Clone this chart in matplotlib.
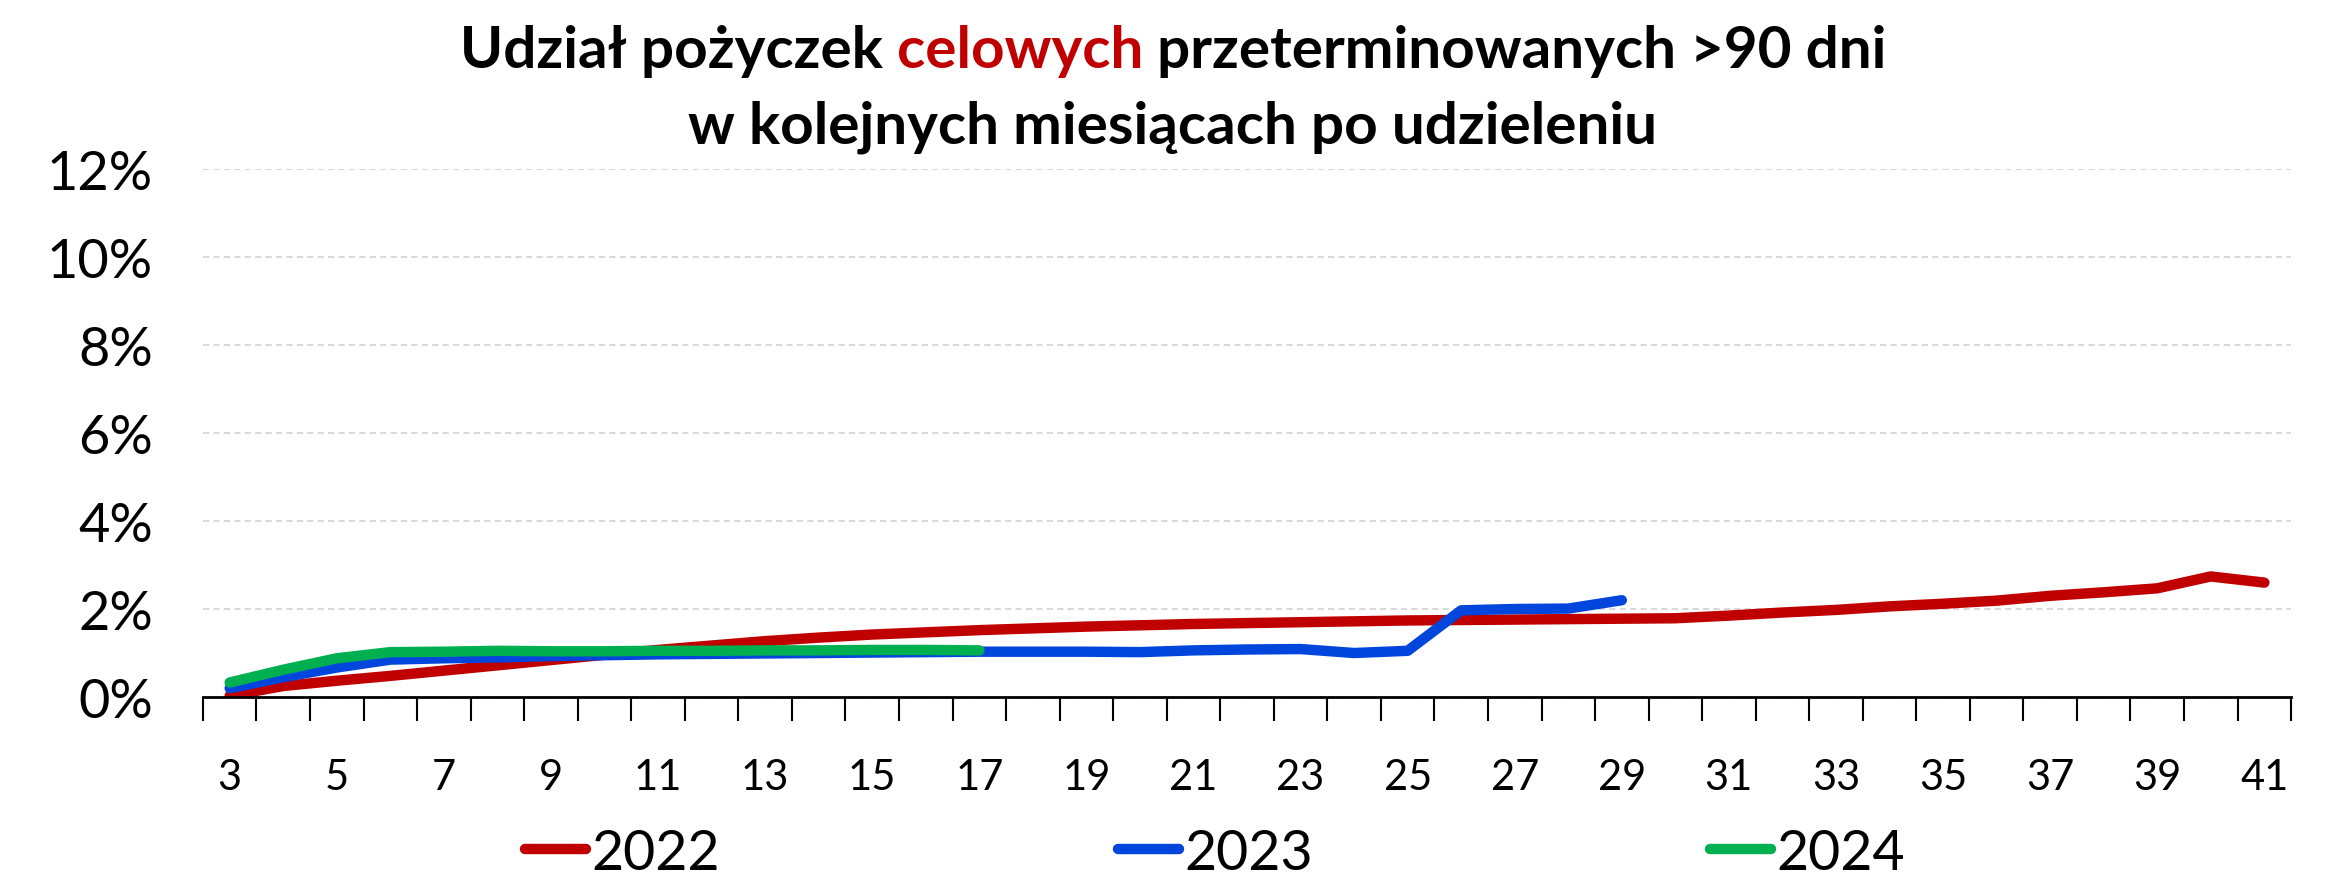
import matplotlib
matplotlib.use("Agg")
import matplotlib.pyplot as plt
from matplotlib.offsetbox import TextArea, HPacker, AnchoredOffsetbox
import numpy as np

plt.rcParams['font.family'] = ['Lato', 'DejaVu Sans']

# months after the loan was granted
months = list(range(3, 42))

share_2022 = [0.03, 0.25, 0.37, 0.48, 0.60, 0.72, 0.84, 0.96, 1.07, 1.17,
              1.27, 1.35, 1.42, 1.47, 1.52, 1.56, 1.60, 1.63, 1.66, 1.68,
              1.70, 1.72, 1.74, 1.75, 1.76, 1.77, 1.78, 1.79, 1.85, 1.92,
              1.98, 2.06, 2.12, 2.19, 2.30, 2.38, 2.47, 2.74, 2.60]
share_2023 = [0.20, 0.45, 0.67, 0.85, 0.88, 0.90, 0.93, 0.95, 0.97, 0.98,
              0.99, 1.00, 1.01, 1.02, 1.03, 1.03, 1.03, 1.02, 1.06, 1.08,
              1.09, 1.00, 1.05, 1.97, 2.00, 2.01, 2.20]
share_2024 = [0.33, 0.62, 0.88, 1.02, 1.03, 1.05, 1.04, 1.04, 1.05, 1.05,
              1.06, 1.06, 1.07, 1.07, 1.06]

series = [('2022', share_2022, '#C00000'),
          ('2023', share_2023, '#0046DC'),
          ('2024', share_2024, '#00B050')]

fig = plt.figure(figsize=(23.46, 8.79), dpi=100)
ax = fig.add_axes([0.0865, 0.2059, 0.8901, 0.6007])

for name, vals, col in series:
    ax.plot(months[:len(vals)], vals, color=col, lw=7.5, label=name,
            solid_capstyle='round', solid_joinstyle='round')

ax.set_xlim(2.5, 41.5)
ax.set_ylim(0, 12)
ax.set_yticks(np.arange(0, 13, 2))
ax.set_yticklabels([f'{v}%' for v in range(0, 13, 2)])
ax.yaxis.grid(True, color='#D9D9D9', ls=(0, (3, 2)), lw=1.5)
ax.set_axisbelow(True)

# ticks between categories, labels on every second month
ax.set_xticks(np.arange(2.5, 42, 1), minor=True)
ax.set_xticks(months[::2])
ax.tick_params(axis='x', which='minor', length=17, width=1.5, color='black')
ax.tick_params(axis='x', which='major', length=0, pad=44, labelsize=30)
ax.tick_params(axis='y', length=0, pad=36, labelsize=39)

for s in ['top', 'right', 'left']:
    ax.spines[s].set_visible(False)
ax.spines['bottom'].set_linewidth(2)

# title with the highlighted word in red
tprops = dict(fontsize=42, fontweight='bold', color='black')
line1 = HPacker(children=[
    TextArea('Udział pożyczek ', textprops=tprops),
    TextArea('celowych', textprops=dict(tprops, color='#C00000')),
    TextArea(' przeterminowanych >90 dni', textprops=tprops)],
    align='baseline', pad=0, sep=0)
fig.add_artist(AnchoredOffsetbox(loc='center', child=line1, frameon=False,
                                 bbox_to_anchor=(0.5, 0.941),
                                 bbox_transform=fig.transFigure, pad=0))
fig.text(0.5, 0.855, 'w kolejnych miesiącach po udzieleniu',
         ha='center', va='center', **tprops)

fig.legend(loc='center', bbox_to_anchor=(0.518, 0.028), ncol=3,
           frameon=False, fontsize=40, handlelength=1.1, handletextpad=0.1,
           columnspacing=7.15)

fig.savefig('out.png', dpi=100)
